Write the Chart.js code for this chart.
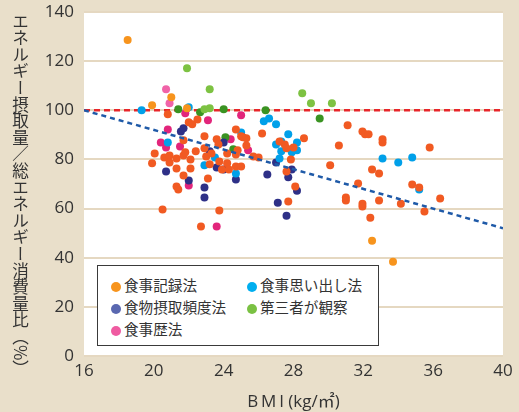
<!DOCTYPE html>
<html lang="ja">
<head>
<meta charset="utf-8">
<script src="https://cdn.jsdelivr.net/npm/chart.js@4.4.0/dist/chart.umd.min.js"></script>
<style>
  html, body { margin: 0; padding: 0; background: #e9dfca; }
  #wrap { position: relative; width: 519px; height: 412px; }
  #yTitle {
    position: absolute; left: 12px; top: 13px;
    writing-mode: vertical-rl;
    font: 16.6px "Noto Sans CJK JP"; line-height: 1; color: #333;
  }
  #legend {
    position: absolute; left: 97px; top: 265px; width: 280px; height: 79px;
    background: #fff; border: 1px solid #3a3a3a;
    font: 14.6px "Noto Sans CJK JP"; color: #333;
  }
  .item { position: absolute; white-space: nowrap; line-height: 18px; }
  .dot { display: inline-block; width: 10px; height: 10px; border-radius: 50%; margin-right: 3px; vertical-align: -1px; }
</style>
</head>
<body>
<div id="wrap">
  <canvas id="bmiChart" width="519" height="412"></canvas>
  <div id="yTitle">エネルギー摂取量／総エネルギー消費量比（%）</div>
  <div id="legend"></div>
</div>
<script>
// legend categories
const categories = ['食事記録法', '食事思い出し法', '食物摂取頻度法', '第三者が観察', '食事歴法'];
const legendColors = ['#f7941d', '#00aeef', '#5a68b0', '#7ac143', '#ef5ba1'];

// [BMI, ratio %]
const recordLight = [[18.5,128.6],[21.0,105.3],[19.9,102.0],[21.9,100.8],[32.5,46.9],[33.7,38.4]];
const recordDark = [
  [20.8,98.4],[22.5,96.3],[22.0,95.1],[22.2,94.3],[22.9,89.4],[23.6,88.2],[23.7,86.1],[24.7,92.2],
  [26.2,90.6],[25.0,89.4],[25.1,89.0],[25.3,88.6],[25.3,85.7],[24.8,83.7],[24.7,82.0],[24.2,82.4],
  [24.2,78.4],[23.9,75.9],[24.3,75.9],[23.75,79.2],[23.2,78.0],[24.7,77.1],[25.0,77.1],[25.7,81.2],
  [26.0,80.8],[27.2,87.3],[27.5,86.1],[27.6,84.5],[28.0,84.9],[27.85,80.0],[28.6,88.6],[27.6,75.1],
  [28.1,69.0],[27.7,62.9],[30.1,77.6],[30.6,85.7],[31.1,93.9],[31.0,64.5],[31.0,63.3],[31.7,70.2],
  [31.95,91.4],[32.1,90.2],[32.3,90.2],[31.95,62.0],[31.95,60.8],[32.4,56.3],[32.5,75.9],[32.9,74.3],
  [33.1,88.2],[33.1,86.9],[32.9,63.3],[34.15,62.0],[34.8,69.8],[35.2,68.6],[35.5,58.8],[35.8,84.9],
  [36.4,64.1],[21.7,87.8],[20.05,82.4],[19.9,78.4],[20.6,80.8],[20.9,81.6],[20.9,78.8],[21.3,80.4],
  [21.7,81.6],[21.8,82.9],[22.1,80.0],[22.4,83.3],[22.9,84.5],[23.0,81.2],[23.3,82.4],[21.3,76.3],
  [22.1,76.3],[21.7,73.5],[23.1,72.2],[21.3,69.0],[21.4,67.8],[20.5,59.6],[23.75,59.2],[22.7,52.7]
];
const recall = [
  [19.3,100.0],[22.0,101.2],[20.8,86.9],[26.3,95.5],[26.6,96.7],[27.0,94.3],[25.0,91.0],[27.7,90.2],
  [27.0,86.1],[27.3,87.3],[28.2,86.9],[27.3,83.3],[27.9,82.9],[28.2,83.7],[27.2,80.4],[23.5,80.8],
  [22.9,77.6],[24.7,74.3],[33.1,80.4],[34.0,78.8],[34.8,80.8],[35.2,67.8]
];
const ffq = [
  [21.55,91.4],[21.7,92.7],[24.0,86.9],[23.2,83.3],[23.6,76.7],[24.0,75.9],[20.7,75.1],[22.0,71.4],
  [22.9,68.6],[22.9,64.5],[24.7,71.8],[27.0,78.8],[26.5,73.9],[27.9,75.9],[27.7,72.7],[28.2,67.3],
  [27.1,62.4],[27.6,57.1]
];
const observedLight = [[21.9,117.1],[23.2,108.6],[23.2,100.8],[28.5,106.9],[29.0,102.9],[30.2,102.9],[22.9,100.4]];
const observedDark = [[21.4,100.4],[24.0,100.4],[26.4,100.0],[29.5,96.7],[24.1,89.0],[22.65,99.2],[24.55,84.1]];
const historyLight = [[20.7,108.6],[20.9,102.9]];
const historyDark = [
  [21.8,98.8],[23.1,95.9],[20.8,92.2],[25.0,98.0],[24.4,88.2],[25.4,83.7],[20.4,86.9],[20.7,84.9],
  [21.5,85.3],[22.0,69.4],[23.6,52.7]
];

// reference line (100%) and regression line
const refLine = [[16,100],[40,100]];
const trendLine = [[16,100],[40,52]];

const toPts = arr => arr.map(([x, y]) => ({ x, y }));

function dots(data, color) {
  return {
    type: 'scatter', data: toPts(data), order: 2,
    backgroundColor: color, borderWidth: 0,
    pointRadius: 4, pointHoverRadius: 4
  };
}

// white plot area on beige page
const plotBg = {
  id: 'plotBg',
  beforeDraw(chart) {
    const { ctx, chartArea: a } = chart;
    ctx.save();
    ctx.fillStyle = '#ffffff';
    ctx.fillRect(a.left, a.top, a.right - a.left, a.bottom - a.top);
    ctx.restore();
  }
};

const tickFont = { family: '"Open Sans", "Noto Sans CJK JP"', size: 17 };

new Chart(document.getElementById('bmiChart'), {
  type: 'scatter',
  data: {
    datasets: [
      { type: 'line', data: toPts(refLine), order: 3, borderColor: '#e8262b', borderWidth: 2.5,
        borderDash: [6, 4], pointRadius: 0, fill: false },
      dots(recordDark, '#f15a22'),
      dots(recordLight, '#f7941d'),
      dots(recall, '#00a0e9'),
      dots(ffq, '#2e3087'),
      dots(observedLight, '#7dc242'),
      dots(observedDark, '#3a9322'),
      dots(historyLight, '#f063a8'),
      dots(historyDark, '#e2257b'),
      { type: 'line', data: toPts(trendLine), order: 1, borderColor: '#1f5aa8', borderWidth: 2.5,
        borderDash: [5, 4], pointRadius: 0, fill: false }
    ]
  },
  options: {
    responsive: false,
    animation: false,
    layout: { padding: { top: 12, right: 16, left: 0, bottom: 0 } },
    plugins: { legend: { display: false }, tooltip: { enabled: false } },
    scales: {
      x: {
        type: 'linear', min: 16, max: 40,
        grid: { display: false, drawTicks: false },
        border: { display: false },
        ticks: { stepSize: 4, autoSkip: false, color: '#333', font: tickFont, padding: 5 },
        title: {
          display: true, text: 'B\u2009M\u2009I (kg/㎡)', color: '#333',
          font: { family: '"Open Sans", "Noto Sans CJK JP"', size: 17 },
          padding: { top: 0, bottom: 0 }
        },
        afterFit: s => { s.height = 56; s.paddingLeft = 0; s.paddingRight = 0; }
      },
      y: {
        min: 0, max: 140,
        grid: { color: '#e5d8c1', lineWidth: 2, drawTicks: false },
        border: { display: false },
        ticks: { stepSize: 20, color: '#333', font: tickFont, padding: 10 },
        afterFit: s => { s.width = 84; s.paddingTop = 0; s.paddingBottom = 0; }
      }
    }
  },
  plugins: [plotBg]
});

// legend box inside the plot
const legendPos = [[13, 10], [149, 10], [13, 32], [149, 32], [13, 54]];
const legendEl = document.getElementById('legend');
categories.forEach((name, i) => {
  const item = document.createElement('div');
  item.className = 'item';
  item.style.left = legendPos[i][0] + 'px';
  item.style.top = legendPos[i][1] + 'px';
  item.innerHTML = `<span class="dot" style="background:${legendColors[i]}"></span>${name}`;
  legendEl.appendChild(item);
});
</script>
</body>
</html>
